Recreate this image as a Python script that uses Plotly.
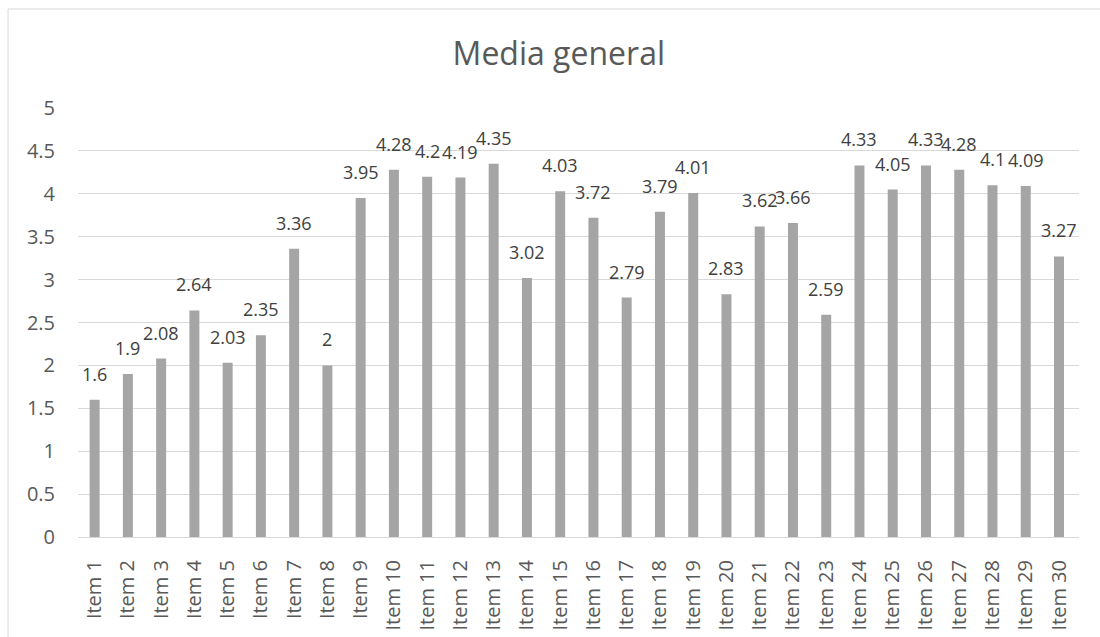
import plotly.graph_objects as go

items = [f"Item {i}" for i in range(1, 31)]
values = [1.6, 1.9, 2.08, 2.64, 2.03, 2.35, 3.36, 2, 3.95, 4.28,
          4.2, 4.19, 4.35, 3.02, 4.03, 3.72, 2.79, 3.79, 4.01, 2.83,
          3.62, 3.66, 2.59, 4.33, 4.05, 4.33, 4.28, 4.1, 4.09, 3.27]
labels = [f"{v:g}" for v in values]

FONT = "Open Sans"
TXT = "#595959"

fig = go.Figure(go.Bar(
    x=items, y=values,
    marker=dict(color="#a5a5a5", line=dict(width=0)),
))

annotations = [
    dict(x=it, y=v, text=lab, showarrow=False, xanchor="center", yanchor="bottom",
         yshift=12, font=dict(family=FONT, size=18, color="#404040"))
    for it, v, lab in zip(items, values, labels)
]

fig.update_layout(
    width=1100, height=637,
    margin=dict(l=78, r=21, t=108, b=100),
    paper_bgcolor="white", plot_bgcolor="white",
    bargap=0.7,
    showlegend=False,
    title=dict(text="Media general", x=0.508, xanchor="center", y=0.915, yanchor="middle",
               font=dict(family=FONT, size=32, color=TXT)),
    font=dict(family=FONT, color=TXT),
    xaxis=dict(tickangle=-90, tickfont=dict(family=FONT, size=20, color=TXT),
               showgrid=False, showline=False, ticks="outside", ticklen=14,
               tickcolor="rgba(0,0,0,0)", automargin=False),
    yaxis=dict(range=[0, 5], dtick=0.5, tick0=0, showgrid=True, gridcolor="#d9d9d9",
               gridwidth=1, zeroline=True, zerolinecolor="#d9d9d9", zerolinewidth=1,
               tickfont=dict(family=FONT, size=20, color=TXT),
               ticks="outside", ticklen=18, tickcolor="rgba(0,0,0,0)", automargin=False),
    annotations=annotations,
    shapes=[dict(type="rect", xref="paper", yref="paper",
                 x0=-0.0699, x1=1.05, y0=-0.3, y1=1.2308,
                 line=dict(color="#d9d9d9", width=1), fillcolor="rgba(0,0,0,0)",
                 layer="below")],
)

fig.write_html("out.html")
